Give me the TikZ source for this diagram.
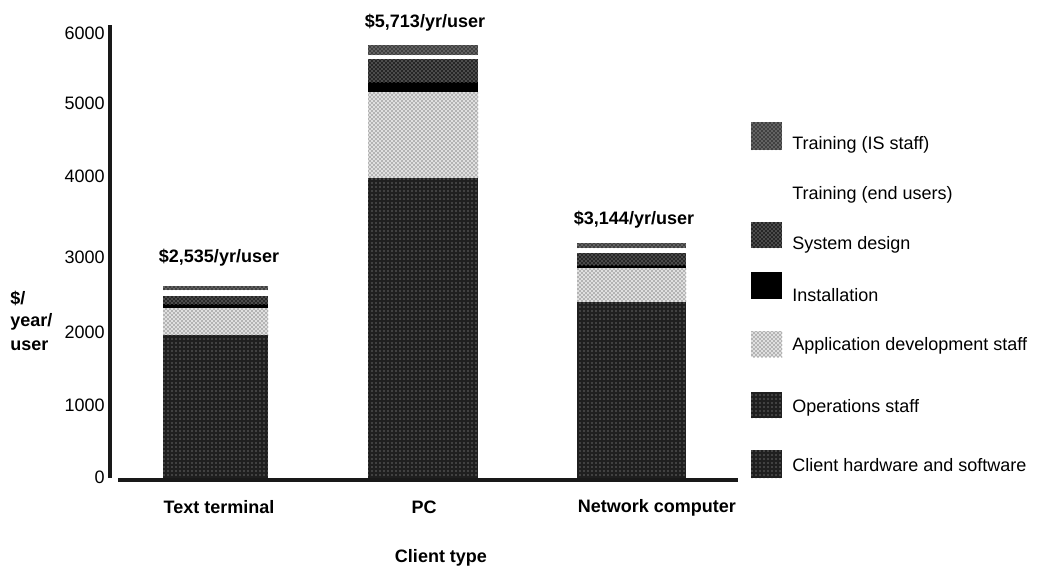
\documentclass[tikz,border=0pt]{standalone}
\usepackage{fontspec}
\setmainfont{Liberation Sans}
\usetikzlibrary{patterns}
\begin{document}
\begin{tikzpicture}[x=0.75pt,y=-0.75pt,
  txt/.style={font=\fontsize{13.5}{16}\selectfont, inner sep=0pt},
  btxt/.style={font=\fontsize{13.5}{16}\selectfont\bfseries, inner sep=0pt},
  hwfill/.style={preaction={fill=black!88}, pattern=dots, pattern color=white!70!black},
  appfill/.style={preaction={fill=black!12}, pattern=crosshatch dots, pattern color=black!85},
  instfill/.style={fill=black},
  sdfill/.style={preaction={fill=black!85}, pattern=crosshatch dots, pattern color=white!80!black},
  isfill/.style={preaction={fill=black!75}, pattern=crosshatch dots, pattern color=white!85!black},
  axisline/.style={line width=3.2pt, black!90},
  baseline/.style={line width=3.6pt, black!90}
]
\useasboundingbox (0,0) rectangle (1038,571);

% ---- axes ----
\coordinate (ytop) at (110,25);
\coordinate (ybot) at (110,478);
\coordinate (xl) at (118,480);
\coordinate (xr) at (738,480);

% ---- Text terminal bar ----
\path[hwfill]   (163,335) rectangle (268,480);
\path[appfill]  (163,308) rectangle (268,335);
\path[instfill] (163,304) rectangle (268,308);
\path[sdfill]   (163,296) rectangle (268,304);
\path[isfill]   (163,286) rectangle (268,290);

% ---- PC bar ----
\path[hwfill]   (368,178) rectangle (478,480);
\path[appfill]  (368,92)  rectangle (478,178);
\path[instfill] (368,82)  rectangle (478,92);
\path[sdfill]   (368,59)  rectangle (478,82);
\path[isfill]   (368,45)  rectangle (478,55);

% ---- Network computer bar ----
\path[hwfill]   (577,302) rectangle (686,480);
\path[appfill]  (577,268) rectangle (686,302);
\path[instfill] (577,265) rectangle (686,268);
\path[sdfill]   (577,253) rectangle (686,265);
\path[isfill]   (577,243) rectangle (686,248);

\draw[axisline] (ytop) -- (ybot);
\draw[baseline] (xl) -- (xr);

% ---- tick labels ----
\node[txt, anchor=east] (t6) at (105,33)  {6000};
\node[txt, anchor=east] (t5) at (105,103) {5000};
\node[txt, anchor=east] (t4) at (105,176) {4000};
\node[txt, anchor=east] (t3) at (105,257) {3000};
\node[txt, anchor=east] (t2) at (105,332) {2000};
\node[txt, anchor=east] (t1) at (105,405) {1000};
\node[txt, anchor=east] (t0) at (105,477) {0};

% ---- axis title ----
\node[btxt, anchor=west] (yl1) at (10,298) {\$/};
\node[btxt, anchor=west] (yl2) at (10,322) {year/};
\node[btxt, anchor=west] (yl3) at (10,346) {user};

% ---- totals ----
\node[btxt] (tot1) at (219,258) {\$2,535/yr/user};
\node[btxt] (tot2) at (425,23)  {\$5,713/yr/user};
\node[btxt] (tot3) at (634,220) {\$3,144/yr/user};

% ---- categories ----
\node[btxt] (c1) at (219,507) {Text terminal};
\node[btxt] (c2) at (424,507) {PC};
\node[btxt] (c3) at (657,508) {Network computer};
\node[btxt] (xt) at (441,558) {Client type};

% ---- legend ----
\path[isfill]   (751,122) rectangle (782,150);
\path[sdfill]   (751,222) rectangle (782,248);
\path[instfill] (751,272) rectangle (782,299);
\path[appfill]  (751,331) rectangle (782,357);
\path[hwfill]   (751,392) rectangle (782,418);
\path[hwfill]   (751,450) rectangle (782,478);
\node[txt, anchor=west] (l1) at (792,145) {Training (IS staff)};
\node[txt, anchor=west] (l2) at (792,195) {Training (end users)};
\node[txt, anchor=west] (l3) at (792,245) {System design};
\node[txt, anchor=west] (l4) at (792,295) {Installation};
\node[txt, anchor=west] (l5) at (792,346) {Application development staff};
\node[txt, anchor=west] (l6) at (792,408) {Operations staff};
\node[txt, anchor=west] (l7) at (792,465) {Client hardware and software};
\end{tikzpicture}
\end{document}
